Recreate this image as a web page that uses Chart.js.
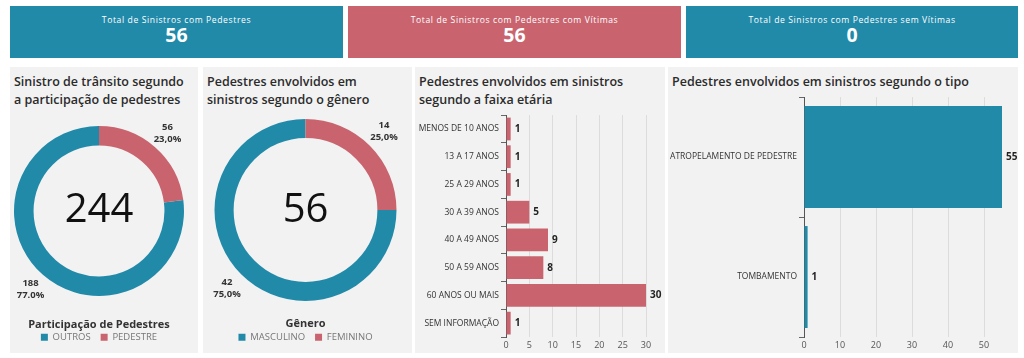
<!DOCTYPE html>
<html lang="pt-BR">
<head>
<meta charset="utf-8">
<script src="https://cdn.jsdelivr.net/npm/chart.js@4.4.0/dist/chart.umd.min.js"></script>
<style>
  body { margin: 0; width: 1024px; height: 358px; background: #fff; font-family: 'Open Sans', sans-serif; position: relative; overflow: hidden; }
  .kpi { position: absolute; top: 6px; height: 52px; color: #fff; text-align: center; }
  .kpi .lbl { font-size: 8.6px; letter-spacing: 0.6px; line-height: 10px; margin-top: 9px; }
  .kpi .val { font-size: 19.5px; font-weight: 700; line-height: 22px; margin-top: -1px; }
  .panel { position: absolute; top: 67px; height: 286px; background: #f2f2f2; }
  .title { position: absolute; left: 4px; top: 6px; font-size: 12.5px; font-weight: 600; color: #2b2b2b; line-height: 18px; white-space: nowrap; }
  canvas { position: absolute; }
</style>
</head>
<body>

<div class="kpi" id="k0" style="left:10px;width:333px;background:#218aa9"></div>
<div class="kpi" id="k1" style="left:348px;width:333px;background:#c9646f"></div>
<div class="kpi" id="k2" style="left:686px;width:332px;background:#218aa9"></div>

<div class="panel" style="left:10px;width:188px"><div class="title">Sinistro de trânsito segundo<br>a participação de pedestres</div></div>
<div class="panel" style="left:203px;width:209px"><div class="title">Pedestres envolvidos em<br>sinistros segundo o gênero</div></div>
<div class="panel" style="left:415px;width:250px"><div class="title">Pedestres envolvidos em sinistros<br>segundo a faixa etária</div></div>
<div class="panel" style="left:668px;width:350px"><div class="title">Pedestres envolvidos em sinistros segundo o tipo</div></div>

<canvas id="c1" width="188" height="237" style="left:10px;top:115px"></canvas>
<canvas id="c2" width="209" height="244" style="left:203px;top:108px"></canvas>
<canvas id="c3" width="250" height="244" style="left:415px;top:108px"></canvas>
<canvas id="c4" width="350" height="262" style="left:668px;top:90px"></canvas>

<script>
const kpiLabels = ['Total de Sinistros com Pedestres', 'Total de Sinistros com Pedestres com Vítimas', 'Total de Sinistros com Pedestres sem Vítimas'];
const kpiValues = [56, 56, 0];

const participacaoCats = ['OUTROS', 'PEDESTRE'];
const participacaoVals = [188, 56];
const participacaoPct = ['77.0%', '23,0%'];

const generoCats = ['MASCULINO', 'FEMININO'];
const generoVals = [42, 14];
const generoPct = ['75,0%', '25,0%'];

const faixaCats = ['MENOS DE 10 ANOS', '13 A 17 ANOS', '25 A 29 ANOS', '30 A 39 ANOS', '40 A 49 ANOS', '50 A 59 ANOS', '60 ANOS OU MAIS', 'SEM INFORMAÇÃO'];
const faixaVals = [1, 1, 1, 5, 9, 8, 30, 1];

const tipoCats = ['ATROPELAMENTO DE PEDESTRE', 'TOMBAMENTO'];
const tipoVals = [55, 1];

const teal = '#218aa9';
const pink = '#c9646f';

Chart.defaults.font.family = "'Open Sans', sans-serif";

kpiLabels.forEach((t, i) => {
    const el = document.getElementById('k' + i);
    el.innerHTML = '<div class="lbl"></div><div class="val"></div>';
    el.querySelector('.lbl').textContent = t;
    el.querySelector('.val').textContent = kpiValues[i];
});

// total no meio da rosca
const centerText = {
    id: 'centerText',
    afterDraw(chart, args, opts) {
        const arc = chart.getDatasetMeta(0).data[0];
        if (!arc) return;
        const total = chart.data.datasets[0].data.reduce((a, b) => a + b, 0);
        const c = chart.ctx;
        c.save();
        c.font = "40px 'Open Sans'";
        c.fillStyle = '#111';
        c.textAlign = 'center';
        c.textBaseline = 'alphabetic';
        c.fillText(total, arc.x, arc.y + opts.dy);
        c.restore();
    }
};

// rotulos fora das fatias
const sliceLabels = {
    id: 'sliceLabels',
    afterDraw(chart, args, opts) {
        const meta = chart.getDatasetMeta(0);
        const vals = chart.data.datasets[0].data;
        const c = chart.ctx;
        c.save();
        c.font = "bold 9.5px 'Open Sans'";
        c.fillStyle = '#333';
        c.textAlign = 'center';
        c.textBaseline = 'middle';
        meta.data.forEach((arc, i) => {
            const p = arc.getProps(['x', 'y', 'startAngle', 'endAngle', 'outerRadius'], true);
            const mid = (p.startAngle + p.endAngle) / 2;
            const r = p.outerRadius * 1.22;
            const x = p.x + Math.cos(mid) * r;
            const y = p.y + Math.sin(mid) * r;
            c.fillText(vals[i], x, y - 6);
            c.fillText(opts.pct[i], x, y + 6);
        });
        c.restore();
    }
};

const barLabels = {
    id: 'barLabels',
    afterDatasetsDraw(chart) {
        const meta = chart.getDatasetMeta(0);
        const vals = chart.data.datasets[0].data;
        const c = chart.ctx;
        c.save();
        c.font = "bold 10px 'Open Sans'";
        c.fillStyle = '#252423';
        c.textBaseline = 'middle';
        meta.data.forEach((bar, i) => c.fillText(vals[i], bar.x + 4, bar.y));
        c.restore();
    }
};

function donut(id, cats, vals, pct, legendTitle, padding, titlePad, cutout, dy) {
    const total = vals.reduce((a, b) => a + b, 0);
    return new Chart(document.getElementById(id), {
        type: 'doughnut',
        data: {
            labels: cats,
            datasets: [{ data: vals, backgroundColor: [teal, pink], borderWidth: 0 }]
        },
        options: {
            responsive: false,
            animation: false,
            cutout: cutout,
            rotation: -360 * vals[0] / total,
            layout: { padding: padding },
            plugins: {
                tooltip: { enabled: false },
                legend: {
                    position: 'bottom',
                    title: { display: true, text: legendTitle, color: '#333', font: { size: 11, weight: 'bold' }, padding: titlePad },
                    labels: { boxWidth: 7, boxHeight: 7, color: '#777', font: { size: 9.5 }, padding: 10 }
                },
                sliceLabels: { pct: pct },
                centerText: { dy: dy }
            }
        },
        plugins: [centerText, sliceLabels]
    });
}

donut('c1', participacaoCats, participacaoVals, participacaoPct, 'Participação de Pedestres',
    { top: 11, left: 4, right: 14, bottom: 0 }, { top: 23.5, bottom: -10.2 }, '77%', 11);
donut('c2', generoCats, generoVals, generoPct, 'Gênero',
    { top: 11, left: 11.5, right: 15.5, bottom: 0 }, { top: 17.5, bottom: -9.2 }, '79%', 12);

function hbar(id, cats, vals, color, xMax, step, yWidth, padding, barPct) {
    return new Chart(document.getElementById(id), {
        type: 'bar',
        data: {
            labels: cats,
            datasets: [{ data: vals, backgroundColor: color, barPercentage: barPct, categoryPercentage: 1 }]
        },
        options: {
            indexAxis: 'y',
            responsive: false,
            animation: false,
            layout: { padding: padding },
            plugins: { legend: { display: false }, tooltip: { enabled: false } },
            scales: {
                x: {
                    min: 0,
                    max: xMax,
                    ticks: { stepSize: step, color: '#555', font: { size: 9 }, padding: 3, maxRotation: 0 },
                    grid: { color: '#dcdcdc', drawTicks: false },
                    border: { display: false },
                    afterBuildTicks: s => { s.ticks = s.ticks.filter(t => t.value % step === 0); },
                    afterFit: s => { s.height = 15; }
                },
                y: {
                    ticks: { color: '#333', font: { size: 8.5 }, padding: 2, autoSkip: false },
                    grid: { drawOnChartArea: false, tickLength: 5, color: '#666' },
                    border: { display: true, color: '#555' },
                    afterFit: s => { s.width = yWidth; }
                }
            }
        },
        plugins: [barLabels]
    });
}

hbar('c3', faixaCats, faixaVals, pink, 30, 5, 91, { top: 5, right: 19, left: 0, bottom: 0 }, 0.82);
hbar('c4', tipoCats, tipoVals, teal, 55, 10, 136, { top: 5, right: 16, left: 0, bottom: 0 }, 0.85);
</script>
</body>
</html>
